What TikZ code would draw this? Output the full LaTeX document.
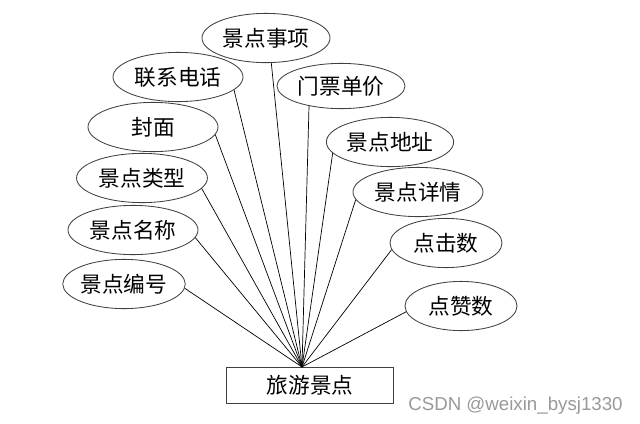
\documentclass[tikz,border=0pt]{standalone}
\usepackage{fontspec}
\newfontfamily\cjk{Noto Sans CJK SC}
\newfontfamily\wmfont{Liberation Sans}
\usetikzlibrary{shapes.geometric}

\begin{document}
\begin{tikzpicture}[x=0.025cm, y=-0.025cm,
    attr/.style={ellipse, draw=black!75, line width=0.6pt, fill=white, inner sep=0pt,
      minimum height=1.23cm, font=\cjk\fontsize{15.4}{18}\selectfont},
    entity/.style={rectangle, draw=black!75, line width=0.7pt, inner sep=0pt,
      minimum width=4.15cm, minimum height=0.9cm, font=\cjk\fontsize{15.4}{18}\selectfont},
    link/.style={black, line width=0.5pt}]
  \useasboundingbox (0,0) rectangle (640,423);
  \node[attr, minimum width=3.2cm] (jdsx) at (266,38) {景点事项};
  \node[attr, minimum width=3.25cm] (lxdh) at (178,77) {联系电话};
  \node[attr, minimum width=3.25cm] (fm) at (153,127) {封面};
  \node[attr, minimum width=3.27cm] (jdlx) at (142,178) {景点类型};
  \node[attr, minimum width=3.25cm] (jdmc) at (133,230) {景点名称};
  \node[attr, minimum width=2.8cm] (jdbh) at (124,284) {景点编号};
  \node[attr, minimum width=3.2cm, minimum height=1.13cm] (mpdj) at (341,86) {门票单价};
  \node[attr, minimum width=3.18cm] (jddz) at (390,142) {景点地址};
  \node[attr, minimum width=3.25cm] (jdxq) at (418,192) {景点详情};
  \node[attr, minimum width=2.8cm] (djs) at (446,243) {点击数};
  \node[attr, minimum width=2.8cm] (dzs) at (461,306) {点赞数};
  \node[entity] (lyjd) at (310,385) {旅游景点};
  \coordinate (top) at (302,367);
  \draw[link] (jdsx.-78) -- (top);
  \draw[link] (lxdh.-13) -- (top);
  \draw[link] (fm.-7) -- (top);
  \draw[link] (jdlx.-10) -- (top);
  \draw[link] (jdmc.-7) -- (top);
  \draw[link] (jdbh.-4) -- (top);
  \draw[link] (mpdj.-148) -- (top);
  \draw[link] (jddz.-169) -- (top);
  \draw[link] (jdxq.-173) -- (top);
  \draw[link] (djs.-173) -- (top);
  \draw[link] (dzs.-174) -- (top);
  \node[anchor=base west, inner sep=0pt, text=black!40, font=\wmfont\fontsize{13.3}{16}\selectfont] (mark) at (408,410) {CSDN @weixin\_bysj1330};
\end{tikzpicture}
\end{document}
